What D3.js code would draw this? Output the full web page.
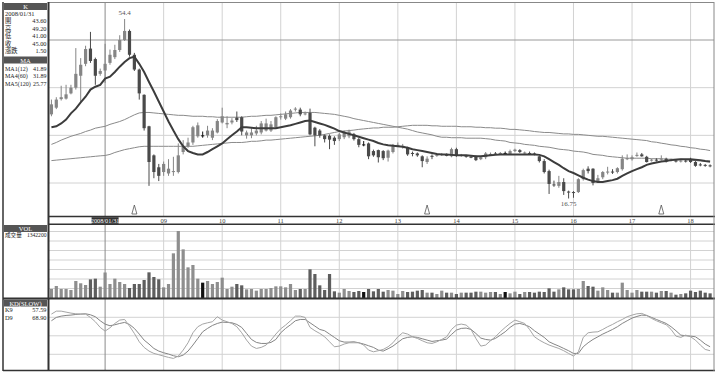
<!DOCTYPE html>
<html>
<head>
<meta charset="utf-8">
<script src="https://cdn.jsdelivr.net/npm/d3@7"></script>
<style>
body { margin: 0; background: #fff; }
svg { display: block; }
text { font-family: "Liberation Serif", "Noto Sans CJK TC", serif; }
</style>
</head>
<body>
<svg id="chart" width="720" height="373"></svg>
<script>
// monthly bars, Feb 2007 .. May 2018
var startYear = 2007, startMonth = 2;

var openP = [34.4,35.8,37.6,37.7,38.8,40.0,42.5,45.0,48.2,46.0,
  42.9,43.6,45.2,46.4,47.9,50.0,51.9,46.9,43.8,38.5,
  31.9,25.8,23.3,22.3,22.0,22.4,22.3,26.5,27.7,28.5,
  29.8,30.0,30.0,29.5,30.6,32.7,32.3,32.7,33.7,33.8,
  30.0,30.0,30.4,30.6,31.0,31.0,31.7,33.9,33.5,33.8,
  35.5,35.4,34.5,34.7,31.6,31.0,30.0,29.9,29.5,29.2,
  29.6,29.8,30.2,29.2,28.1,28.3,26.7,26.9,26.7,25.3,
  26.5,27.9,27.6,27.4,26.3,26.2,25.6,24.4,25.7,25.8,
  26.0,25.9,25.6,27.1,25.8,25.7,25.5,25.6,25.0,25.4,
  26.0,26.2,26.2,26.3,26.1,26.7,26.9,26.3,26.3,26.2,
  25.6,24.6,22.5,19.7,19.4,20.2,18.2,18.1,18.1,20.8,
  23.0,23.0,20.3,21.2,22.3,22.4,22.3,22.9,25.0,25.0,
  25.8,26.0,25.5,24.8,24.9,25.0,25.1,24.8,24.7,24.6,
  24.7,24.9,24.4,23.9,23.8,23.7];
var highP = [37.5,38.0,40.4,40.6,40.6,48.3,46.2,48.8,51.7,46.3,
  44.0,49.2,48.0,49.0,51.0,54.4,52.2,47.3,44.0,38.6,
  32.0,26.0,24.0,24.5,25.0,25.5,28.3,29.0,29.5,32.0,
  32.7,30.8,32.0,31.5,33.4,35.8,34.0,33.6,35.0,34.0,
  31.0,31.5,32.0,33.0,33.5,33.0,34.0,34.6,35.0,35.5,
  35.9,35.8,35.0,35.6,31.8,31.3,30.2,30.2,29.8,30.5,
  31.0,31.2,30.5,29.5,28.8,28.5,27.0,27.0,26.9,27.0,
  28.2,28.5,28.2,27.6,26.6,26.4,25.8,25.6,26.0,26.2,
  26.3,26.2,27.4,27.4,26.1,25.9,25.8,25.8,25.6,26.5,
  26.4,26.5,26.5,26.6,27.0,27.2,27.1,26.6,26.6,26.4,
  25.7,25.0,22.8,20.5,21.5,21.0,18.4,18.3,21.0,23.0,
  23.5,23.1,21.7,22.5,23.4,22.9,23.3,25.8,26.0,25.8,
  26.4,26.3,25.7,25.1,25.2,25.8,25.3,25.1,24.9,24.9,
  24.9,25.3,24.6,24.2,24.0,23.9];
var lowP = [34.0,35.5,37.3,37.5,38.6,39.6,37.0,44.5,45.2,40.6,
  42.5,41.0,44.8,46.0,47.5,49.8,46.5,43.5,37.5,31.0,
  19.4,21.0,20.4,21.5,21.5,21.5,22.0,26.0,27.4,28.0,
  29.5,29.5,29.5,29.0,30.4,32.5,31.5,32.3,32.8,30.0,
  29.3,29.4,30.0,30.2,30.8,30.7,31.5,33.3,33.2,33.5,
  35.0,34.0,34.2,30.0,27.7,29.5,28.5,27.1,28.0,28.8,
  29.2,29.4,28.9,27.5,27.7,25.0,25.5,24.3,24.8,24.5,
  26.2,27.6,27.2,25.7,25.6,25.5,23.3,24.0,25.0,25.5,
  25.7,25.6,25.4,25.5,25.5,25.3,25.2,24.6,24.8,25.0,
  25.7,25.9,25.9,26.0,25.9,26.5,26.3,26.0,25.9,25.8,
  24.3,22.0,17.7,19.2,19.0,17.5,16.75,16.9,17.9,20.5,
  22.0,19.5,20.0,20.8,21.8,21.9,22.0,22.6,24.8,24.7,
  25.5,25.5,24.3,24.5,24.5,24.7,24.3,24.5,24.3,24.3,
  24.3,24.2,23.4,23.5,23.4,23.3];
var closeP = [36.5,37.5,38.0,38.6,40.0,42.9,44.8,48.1,45.6,42.5,
  43.5,45.0,46.9,47.9,50.0,51.9,46.9,43.8,38.8,31.5,
  24.4,22.3,21.5,24.0,23.0,22.5,25.8,27.7,28.5,31.7,
  32.1,30.0,31.0,31.0,33.0,34.0,32.6,33.1,33.2,30.8,
  30.6,30.6,31.0,32.5,32.5,32.3,33.8,34.0,34.4,35.2,
  35.6,34.4,34.6,30.2,30.0,30.0,29.2,29.1,28.8,30.2,
  30.6,30.8,29.2,28.0,28.1,25.6,25.8,25.4,25.2,26.8,
  27.7,28.0,27.8,26.0,26.2,25.8,24.6,25.1,25.6,25.9,
  26.1,25.8,27.1,25.8,25.9,25.6,25.4,24.8,25.4,26.2,
  26.1,26.1,26.3,26.3,26.7,27.0,26.5,26.4,26.2,26.1,
  24.6,22.3,19.8,19.6,20.2,18.3,18.1,18.0,20.8,22.7,
  22.5,20.0,21.0,22.3,22.4,22.3,23.1,25.1,25.2,25.4,
  25.9,25.6,24.4,24.9,24.8,25.1,24.5,24.9,24.6,24.7,
  24.6,24.4,23.6,23.8,23.7,23.6];

var ma12 = [31.7,31.9,32.5,33.3,34.6,35.6,36.9,38.1,39.6,40.2,
  40.6,41.89,42.3,43.3,44.4,45.4,46.2,46.5,45.0,43.3,
  41.2,39.2,37.1,35.0,32.9,31.0,29.2,27.7,26.7,26.3,
  26.0,26.0,26.5,27.1,27.7,28.3,29.2,30.0,30.8,31.7,
  31.7,31.6,31.5,31.5,31.5,31.5,31.5,31.7,31.9,32.1,
  32.4,32.7,33.0,33.1,32.8,32.5,32.2,31.8,31.4,30.9,
  30.6,30.3,30.0,29.7,29.4,29.1,28.8,28.4,28.1,27.9,
  27.8,27.7,27.6,27.4,27.1,26.9,26.7,26.5,26.3,26.1,
  26.0,26.0,25.9,25.8,25.8,25.8,25.7,25.6,25.6,25.7,
  25.8,25.9,26.0,26.0,26.0,26.0,26.0,26.0,26.0,26.0,
  25.9,25.6,25.0,24.4,23.8,23.1,22.5,22.1,21.6,21.1,
  20.7,20.4,20.2,20.2,20.4,20.6,20.9,21.5,22.0,22.5,
  22.9,23.3,23.8,24.1,24.3,24.5,24.6,24.8,24.9,25.0,
  25.0,25.0,24.9,24.8,24.6,24.5];
var ma60 = [28.1,28.5,29.0,29.4,29.8,30.1,30.4,30.8,31.1,31.5,
  31.7,31.89,32.3,32.6,32.9,33.3,33.8,34.3,34.7,34.8,
  34.8,34.7,34.6,34.5,34.4,34.3,34.2,34.2,34.1,34.0,
  34.0,34.0,33.9,33.9,33.8,33.8,33.8,33.8,33.8,33.8,
  33.9,34.0,34.0,34.1,34.2,34.2,34.3,34.4,34.5,34.6,
  34.7,34.8,34.8,34.8,34.8,34.7,34.6,34.5,34.4,34.2,
  34.0,33.8,33.5,33.3,33.1,32.9,32.7,32.5,32.3,32.1,
  31.9,31.7,31.5,31.3,31.0,30.7,30.5,30.3,30.1,29.8,
  29.6,29.6,29.5,29.5,29.5,29.4,29.4,29.4,29.4,29.3,
  29.2,29.0,28.9,28.8,28.5,28.4,28.3,28.1,28.0,27.9,
  27.7,27.6,27.5,27.3,27.1,27.0,26.9,26.7,26.6,26.5,
  26.3,26.0,25.9,25.8,25.6,25.5,25.4,25.3,25.2,25.2,
  25.2,25.2,25.2,25.1,25.1,25.1,25.0,25.0,25.0,25.0,
  24.9,24.8,24.7,24.6,24.5,24.4];
var ma120 = [24.7,24.8,24.9,25.0,25.1,25.2,25.3,25.4,25.5,25.6,
  25.7,25.77,26.0,26.4,26.7,27.0,27.2,27.4,27.6,27.7,
  27.7,27.7,27.7,27.7,27.7,27.7,27.7,27.7,27.7,27.7,
  27.8,27.9,28.0,28.1,28.2,28.3,28.4,28.5,28.5,28.5,
  28.6,28.75,28.75,28.85,29.0,29.0,29.1,29.2,29.3,29.4,
  29.5,29.6,29.7,29.8,29.9,30.0,30.2,30.4,30.6,30.8,
  30.9,31.0,31.1,31.25,31.35,31.45,31.55,31.55,31.7,31.7,
  31.7,31.8,31.9,32.0,32.1,32.1,32.1,32.1,32.0,32.0,
  31.9,31.9,31.9,31.9,31.8,31.8,31.8,31.7,31.7,31.6,
  31.6,31.5,31.5,31.4,31.25,31.25,31.15,31.05,30.95,30.8,
  30.7,30.6,30.6,30.5,30.4,30.3,30.3,30.2,30.2,30.1,
  30.0,29.9,29.8,29.8,29.7,29.6,29.5,29.4,29.3,29.2,
  29.1,29.0,28.9,28.65,28.55,28.35,28.2,28.0,27.9,27.7,
  27.6,27.4,27.3,27.1,27.0,26.8];

// volume in thousands of shares
var volume = [474,632,474,474,421,895,774,684,982,1018,
  596,1342.2,737,1018,842,737,526,737,737,947,
  1351,1105,984,561,737,2351,3526,2561,1614,1737,
  1018,807,895,737,842,1070,474,596,737,667,
  456,474,386,474,474,526,614,614,561,737,
  421,474,474,1509,1263,667,421,1263,351,281,
  474,368,316,368,316,474,351,474,333,421,
  386,210,368,316,333,386,421,281,281,210,
  386,281,281,210,281,281,281,333,333,281,
  316,316,210,316,245,333,210,316,316,281,
  333,316,509,333,456,561,456,456,474,895,
  632,596,386,561,421,281,281,807,421,281,
  421,333,333,333,281,368,368,281,175,210,
  245,386,316,386,281,245];

var kLine = [85.2,90.0,90.0,88.4,86.8,85.7,85.2,85.2,79.8,72.8,
  63.6,57.59,63.0,70.0,75.5,76.5,65.7,53.8,40.3,31.2,
  25.2,21.4,19.3,17.1,15.0,13.3,17.1,26.8,38.7,54.9,
  64.7,69.0,71.1,72.8,80.9,75.5,72.8,70.0,64.7,54.9,
  43.0,33.3,29.5,31.2,35.0,43.0,52.8,61.4,67.4,74.4,
  81.9,81.9,79.8,63.6,58.2,53.8,48.4,40.3,32.2,33.3,
  36.6,38.7,38.7,38.7,35.0,26.8,24.1,25.8,27.9,32.2,
  38.7,48.4,54.9,52.8,48.4,45.7,42.0,38.7,37.6,40.3,
  44.1,48.4,60.3,67.4,69.0,67.4,60.3,45.7,33.3,35.0,
  42.0,48.4,56.5,63.6,70.0,75.5,72.8,70.0,60.3,48.4,
  43.0,38.7,35.0,32.2,29.5,25.8,21.4,17.1,24.1,47.4,
  54.9,56.0,56.5,60.3,64.7,68.4,72.8,76.5,80.9,83.6,
  85.7,86.3,83.0,78.2,74.4,71.1,67.9,60.3,49.5,47.4,
  51.1,48.4,43.0,35.0,27.9,25.8];
var dLine = [74.4,79.8,81.9,83.0,83.6,84.6,85.2,85.7,84.1,80.9,
  74.4,68.90,66.3,67.9,70.0,71.7,68.4,62.0,52.8,43.0,
  36.6,29.5,25.2,22.5,20.4,17.7,16.0,18.7,25.2,35.0,
  45.7,56.5,62.0,66.8,70.0,72.2,71.7,71.1,68.4,63.6,
  53.8,44.1,39.3,37.6,37.6,39.3,44.1,54.9,62.0,67.9,
  74.4,76.5,76.5,71.1,65.7,60.3,58.2,52.8,47.4,42.0,
  39.8,39.8,40.3,38.7,36.6,33.9,31.2,26.8,25.2,29.0,
  33.3,39.3,45.2,47.4,48.4,47.4,45.2,43.0,40.9,42.0,
  43.0,44.7,52.2,59.3,62.0,62.5,60.3,53.8,46.3,44.1,
  43.0,45.7,51.1,56.5,63.6,69.0,70.0,67.9,64.7,58.2,
  52.8,47.4,40.3,36.6,33.3,29.5,25.8,21.4,21.4,32.2,
  38.7,44.1,48.4,52.8,56.5,60.3,64.7,70.0,74.4,78.7,
  81.4,83.6,83.0,79.8,76.5,73.3,70.0,64.7,58.2,51.1,
  50.1,49.5,48.4,43.0,36.6,32.2];

var yearLabels = ["09","10","11","12","13","14","15","16","17","18"];
var markMonths = [17, 77, 125];   // △ markers
var cursorIdx = 11;               // 2008/01/31

var kInfo = [["開","43.60"],["高","49.20"],["低","41.00"],["收","45.00"],["漲跌","1.50"]];
var maInfo = [["MA1(12)","41.89"],["MA4(60)","31.89"],["MA5(120)","25.77"]];
var volInfo = ["成交量", "1342200"];
var kdInfo = [["K9","57.59"],["D9","68.90"]];

var n = closeP.length;
var svg = d3.select("#chart");

var left = 48.5, right = 714;
var x = d3.scaleLinear().domain([-0.6, n - 0.2]).range([left, right]);
var yP = d3.scaleLinear().domain([20, 50]).range([183, 40]);
var yV = d3.scaleLinear().domain([0, 3500]).range([298, 231.5]);
var yK = d3.scaleLinear().domain([20, 80]).range([354.3, 317.3]);

var upCol = "#858585", downCol = "#4a4a4a";
function col(i) {
    if (closeP[i] > openP[i]) return upCol;
    if (closeP[i] < openP[i]) return downCol;
    return "#111";
}

var yearIdx = yearLabels.map(function(d) {
    return (2000 + (+d) - startYear) * 12 + (1 - startMonth);
});

svg.append("defs").append("clipPath").attr("id", "pclip")
    .append("rect").attr("x", left).attr("y", 3).attr("width", right - left).attr("height", 213);

// grids
function vgrid(y0, y1) {
    svg.append("g").selectAll("line").data(yearIdx).enter().append("line")
        .attr("x1", function(d) { return x(d); }).attr("x2", function(d) { return x(d); })
        .attr("y1", y0).attr("y2", y1)
        .attr("stroke", "#d2d2d2").attr("stroke-width", 1);
}
vgrid(3, 216); vgrid(225, 298); vgrid(299, 370);

svg.append("g").selectAll("line").data([20, 30, 40, 50]).enter().append("line")
    .attr("x1", left).attr("x2", right)
    .attr("y1", function(d) { return yP(d); }).attr("y2", function(d) { return yP(d); })
    .attr("stroke", function(d) { return d == 50 ? "#9a9a9a" : "#d2d2d2"; });
svg.append("g").selectAll("line").data(d3.range(500, 3501, 500)).enter().append("line")
    .attr("x1", left).attr("x2", right)
    .attr("y1", function(d) { return yV(d); }).attr("y2", function(d) { return yV(d); })
    .attr("stroke", "#d2d2d2");
svg.append("g").selectAll("line").data([20, 50, 80]).enter().append("line")
    .attr("x1", left).attr("x2", right)
    .attr("y1", function(d) { return yK(d); }).attr("y2", function(d) { return yK(d); })
    .attr("stroke", "#d2d2d2");

// cursor line
[[3, 216], [225, 298], [299, 370]].forEach(function(r) {
    svg.append("line").attr("x1", x(cursorIdx)).attr("x2", x(cursorIdx))
        .attr("y1", r[0]).attr("y2", r[1]).attr("stroke", "#8a8a8a");
});

// moving averages
var pg = svg.append("g").attr("clip-path", "url(#pclip)");
function maLine(arr, w, c) {
    pg.append("path").datum(arr)
        .attr("fill", "none").attr("stroke", c).attr("stroke-width", w)
        .attr("d", d3.line().x(function(d, i) { return x(i); }).y(function(d) { return yP(d); }));
}
maLine(ma120, 1, "#8a8a8a");
maLine(ma60, 1, "#8a8a8a");

// candles
var idx = d3.range(n);
var cg = pg.append("g");
cg.selectAll(".wick").data(idx).enter().append("line")
    .attr("x1", function(i) { return x(i); }).attr("x2", function(i) { return x(i); })
    .attr("y1", function(i) { return yP(highP[i]); }).attr("y2", function(i) { return yP(lowP[i]); })
    .attr("stroke", col).attr("stroke-width", 1);
cg.selectAll(".body").data(idx).enter().append("rect")
    .attr("x", function(i) { return x(i) - 1.6; }).attr("width", 3.2)
    .attr("y", function(i) { return yP(Math.max(openP[i], closeP[i])); })
    .attr("height", function(i) { return Math.max(1, Math.abs(yP(openP[i]) - yP(closeP[i]))); })
    .attr("fill", col);

maLine(ma12, 2, "#3c3c3c");

// high / low labels
var hi = d3.maxIndex(highP), lo = d3.minIndex(lowP);
svg.append("text").attr("x", x(hi)).attr("y", yP(highP[hi]) - 4)
    .attr("text-anchor", "middle").attr("font-size", 7).attr("fill", "#555").text(highP[hi]);
svg.append("text").attr("x", x(lo)).attr("y", yP(lowP[lo]) + 8)
    .attr("text-anchor", "middle").attr("font-size", 7).attr("fill", "#555").text(lowP[lo]);

// markers
svg.append("g").selectAll("path").data(markMonths).enter().append("path")
    .attr("d", function(i) { var c = x(i); return "M" + c + ",205L" + (c - 2.5) + ",214L" + (c + 2.5) + ",214Z"; })
    .attr("fill", "#fff").attr("stroke", "#555").attr("stroke-width", 0.8);

// volume
svg.append("g").selectAll("rect").data(idx).enter().append("rect")
    .attr("x", function(i) { return x(i) - 1.6; }).attr("width", 3.2)
    .attr("y", function(i) { return yV(volume[i]); })
    .attr("height", function(i) { return yV(0) - yV(volume[i]); })
    .attr("fill", function(i) { return closeP[i] > openP[i] ? "#8e8e8e" : (closeP[i] < openP[i] ? "#5e5e5e" : "#111"); });

// KD
var kdLine = d3.line().x(function(d, i) { return x(i); }).y(function(d) { return yK(d); });
svg.append("path").datum(dLine).attr("fill", "none").attr("stroke", "#858585").attr("stroke-width", 1).attr("d", kdLine);
svg.append("path").datum(kLine).attr("fill", "none").attr("stroke", "#a5a5a5").attr("stroke-width", 1).attr("d", kdLine);

// x axis row
svg.append("g").selectAll("text").data(yearIdx).enter().append("text")
    .attr("x", function(d) { return x(d); }).attr("y", 222.5)
    .attr("text-anchor", "middle").attr("font-size", 6.5).attr("fill", "#444")
    .text(function(d, i) { return yearLabels[i]; });
svg.append("rect").attr("x", x(cursorIdx) - 13.5).attr("y", 217.2).attr("width", 27).attr("height", 6.6).attr("fill", "#333");
svg.append("text").attr("x", x(cursorIdx)).attr("y", 222.7).attr("text-anchor", "middle")
    .attr("font-size", 6.3).attr("fill", "#fff").text("2008/01/31");

// frame lines
function hl(y, x0, x1, w, c) {
    svg.append("line").attr("x1", x0).attr("x2", x1).attr("y1", y).attr("y2", y).attr("stroke", c).attr("stroke-width", w);
}
hl(2.5, left, right, 1, "#888");
hl(216.5, left, right + 1, 1.5, "#333");
hl(224.3, left, right + 1, 1.5, "#333");
hl(298.5, 3, right + 1, 2, "#333");
hl(370.5, 3, right + 1, 1.5, "#333");
svg.append("line").attr("x1", right).attr("x2", right).attr("y1", 2).attr("y2", 371).attr("stroke", "#888");
svg.append("line").attr("x1", 3).attr("x2", 3).attr("y1", 2).attr("y2", 371).attr("stroke", "#333").attr("stroke-width", 1.5);
svg.append("line").attr("x1", left).attr("x2", left).attr("y1", 2).attr("y2", 371).attr("stroke", "#333").attr("stroke-width", 2);

// left info panel
function header(y, label) {
    svg.append("rect").attr("x", 4).attr("y", y).attr("width", 43).attr("height", 7).attr("fill", "#555");
    svg.append("text").attr("x", 25.5).attr("y", y + 6).attr("text-anchor", "middle")
        .attr("font-size", 6.5).attr("fill", "#fff").text(label);
}
function row(y, a, b, fs) {
    fs = fs || 6.3;
    svg.append("text").attr("x", 5).attr("y", y).attr("font-size", fs).attr("fill", "#222")
        .style("font-family", /[\u4e00-\u9fff]/.test(a) ? "'Noto Sans CJK TC', sans-serif" : null).text(a);
    svg.append("text").attr("x", 46.5).attr("y", y).attr("text-anchor", "end").attr("font-size", fs).attr("fill", "#222").text(b);
}
header(3, "K");
svg.append("text").attr("x", 5).attr("y", 16).attr("font-size", 6.5).attr("fill", "#222").text("2008/01/31");
kInfo.forEach(function(d, i) { row(23 + i * 7.5, d[0], d[1]); });
header(56.5, "MA");
maInfo.forEach(function(d, i) { row(70.5 + i * 7.5, d[0], d[1], 6); });
header(225, "VOL");
row(237, volInfo[0], volInfo[1], 5.6);
header(299.5, "KD(SLOW)");
kdInfo.forEach(function(d, i) { row(312 + i * 8, d[0], d[1]); });
</script>
</body>
</html>
